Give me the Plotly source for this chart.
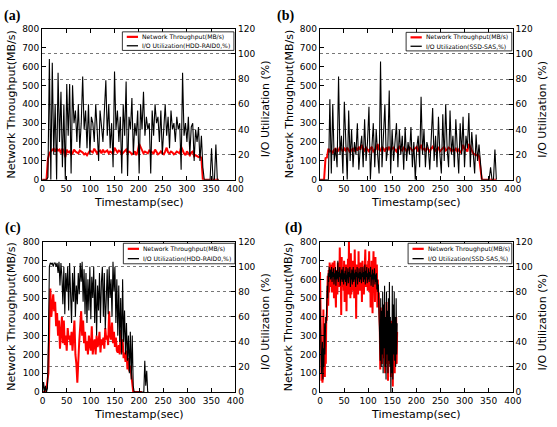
import plotly.graph_objects as go

# ---------------- data ----------------
# (a) HDD-RAID0, sampled every 3 s
a_step = 3
a_net = [0, 0, 0, 0, 110, 140, 150, 160, 165, 150, 165, 155, 160, 140, 165, 150, 120, 160, 145, 150,
         135, 140, 160, 150, 145, 140, 155, 150, 145, 135, 140, 130, 145, 155, 150, 145, 165, 150, 140, 150,
         155, 140, 160, 145, 150, 155, 140, 150, 145, 135, 170, 160, 145, 155, 150, 135, 145, 150, 160, 140,
         150, 145, 135, 140, 150, 130, 150, 190, 175, 160, 140, 150, 145, 140, 155, 150, 145, 140, 160, 145,
         135, 140, 150, 140, 135, 150, 170, 145, 140, 150, 145, 135, 140, 150, 145, 140, 175, 155, 140, 130,
         150, 140, 130, 145, 150, 125, 130, 125, 120, 125, 115, 0, 0, 0, 0, 0, 0, 0, 0, 0,
         0, 0, 0]
a_io = [0, 0, 0, 0, 2, 96, 0, 93, 20, 60, 0, 85, 30, 70, 10, 60, 0, 76, 35, 76,
        5, 75, 45, 55, 30, 60, 25, 45, 82, 40, 55, 25, 60, 20, 50, 45, 30, 60, 40, 15,
        55, 40, 30, 55, 79, 35, 60, 25, 45, 10, 86, 40, 55, 30, 50, 5, 60, 35, 78, 3,
        50, 40, 65, 20, 45, 35, 55, 5, 60, 40, 70, 35, 50, 40, 45, 5, 55, 35, 60, 45,
        50, 30, 55, 20, 45, 60, 35, 50, 25, 55, 40, 45, 30, 50, 40, 45, 8, 85, 35, 45,
        30, 50, 20, 42, 45, 15, 40, 30, 42, 15, 35, 10, 0, 0, 0, 0, 0, 25, 0, 0,
        28, 0, 0]

# (b) SSD-SAS, sampled every 3 s
b_step = 3
b_net = [0, 0, 0, 0, 115, 118, 165, 150, 155, 140, 160, 165, 150, 155, 175, 160, 150, 165, 155, 170,
         160, 145, 160, 165, 150, 170, 155, 175, 160, 185, 165, 155, 170, 160, 150, 165, 175, 150, 160, 165,
         190, 160, 155, 175, 165, 150, 170, 160, 175, 155, 165, 170, 160, 150, 165, 175, 160, 155, 170, 165,
         150, 160, 170, 165, 155, 160, 170, 175, 150, 165, 185, 160, 165, 155, 170, 160, 150, 165, 175, 160,
         155, 165, 170, 150, 160, 165, 175, 155, 160, 170, 165, 150, 160, 155, 165, 150, 160, 145, 155, 185,
         165, 160, 150, 190, 170, 150, 140, 135, 130, 135, 125, 60, 0, 0, 0, 0, 0, 0, 0, 0,
         0, 0, 0]
b_io = [0, 0, 0, 0, 0, 0, 0, 64, 5, 60, 15, 25, 10, 82, 20, 35, 5, 62, 25, 0,
        55, 15, 40, 10, 30, 20, 45, 8, 25, 35, 10, 48, 15, 30, 58, 0, 25, 45, 10, 40,
        20, 5, 94, 10, 35, 60, 15, 25, 71, 5, 40, 15, 30, 45, 10, 40, 20, 35, 8, 42,
        15, 30, 20, 42, 10, 30, 0, 25, 35, 10, 66, 20, 40, 10, 30, 25, 8, 40, 57, 15,
        35, 10, 50, 20, 5, 52, 15, 60, 25, 10, 55, 20, 35, 10, 48, 25, 5, 45, 20, 50,
        10, 35, 25, 53, 10, 38, 20, 5, 36, 15, 28, 10, 0, 0, 0, 0, 0, 0, 10, 0,
        0, 24, 0]

# (c) HDD-RAID0, sampled every 2 s
c_step = 2
c_net = [0, 0, 0, 0, 20, 50, 100, 380, 550, 400, 470, 520, 430, 480, 350, 420, 300, 380, 230, 300,
         400, 260, 380, 250, 300, 220, 340, 280, 300, 250, 320, 220, 280, 380, 200, 150, 50, 200, 270, 350,
         430, 300, 380, 260, 320, 220, 270, 200, 300, 250, 220, 350, 200, 260, 280, 200, 300, 240, 260, 320,
         210, 280, 250, 290, 230, 340, 280, 300, 250, 430, 300, 280, 370, 260, 320, 240, 290, 220, 210, 250,
         200, 330, 210, 280, 180, 210, 160, 220, 120, 180, 110, 140, 100, 50, 0, 0, 0, 0, 0, 0,
         0, 0, 0, 0]
c_io = [0, 8, 0, 5, 0, 3, 40, 100, 103, 102, 103, 100, 103, 103, 100, 103, 95, 104, 85, 103,
        92, 70, 100, 62, 95, 80, 100, 65, 103, 85, 55, 95, 72, 100, 60, 85, 70, 95, 78, 103,
        88, 104, 72, 98, 62, 95, 55, 90, 65, 100, 58, 92, 75, 100, 55, 90, 45, 85, 65, 95,
        55, 88, 100, 60, 95, 50, 85, 98, 62, 100, 75, 90, 60, 104, 80, 100, 55, 90, 45, 85,
        40, 75, 30, 90, 40, 65, 30, 55, 25, 45, 15, 48, 10, 45, 5, 0, 0, 0, 0, 0,
        0, 0, 0, 0, 0, 0, 25, 5, 17, 0, 0]

# (d) SSD-SAS, sampled every 1 s
d_step = 1
d_net = [640, 250, 100, 60, 150, 50, 80, 440, 100, 200, 80, 300, 150, 400, 380, 500, 620, 460, 650, 530,
         690, 560, 640, 600, 680, 530, 690, 600, 640, 500, 700, 560, 620, 450, 650, 580, 520, 690, 600, 650,
         560, 770, 600, 640, 410, 720, 560, 600, 650, 540, 700, 480, 620, 590, 680, 430, 640, 580, 710, 520,
         800, 560, 650, 500, 740, 520, 640, 600, 700, 540, 650, 500, 760, 600, 640, 390, 680, 560, 620, 520,
         750, 580, 650, 540, 690, 600, 640, 480, 700, 560, 660, 520, 620, 590, 760, 560, 680, 600, 640, 540,
         700, 600, 750, 530, 660, 450, 600, 700, 560, 420, 640, 750, 560, 650, 480, 720, 600, 540, 680, 450,
         600, 500, 530, 420, 350, 120, 450, 200, 380, 150, 420, 250, 460, 180, 350, 100, 400, 220, 480, 150,
         380, 60, 420, 200, 340, 150, 380, 80, 300, 100, 380, 30, 400, 200, 330, 100, 350, 180, 400, 150,
         320]
d_io = [75, 60, 30, 15, 25, 40, 10, 35, 20, 55, 30, 50, 60, 55, 70, 85, 75, 95, 88, 100,
        92, 98, 90, 95, 100, 88, 96, 92, 99, 86, 95, 90, 100, 85, 97, 90, 93, 105, 88, 96,
        92, 100, 85, 95, 90, 98, 88, 94, 100, 86, 95, 90, 97, 88, 100, 85, 94, 90, 99, 87,
        96, 92, 100, 84, 95, 90, 98, 86, 94, 100, 88, 95, 90, 98, 84, 96, 92, 100, 86, 95,
        91, 99, 88, 96, 90, 100, 87, 95, 92, 100, 88, 96, 90, 102, 86, 97, 92, 100, 87, 95,
        90, 99, 88, 96, 92, 100, 85, 94, 90, 98, 84, 95, 90, 99, 86, 94, 88, 95, 82, 90,
        80, 86, 70, 78, 60, 25, 75, 20, 65, 30, 80, 15, 70, 35, 85, 20, 60, 10, 80, 30,
        65, 15, 75, 25, 88, 20, 60, 0, 55, 15, 85, 10, 70, 30, 80, 25, 60, 20, 75, 30,
        55]

panel_labels = ["(a)", "(b)", "(c)", "(d)"]
devices = ["HDD-RAID0", "SSD-SAS", "HDD-RAID0", "SSD-SAS"]
x_ticks = [0, 50, 100, 150, 200, 250, 300, 350, 400]
left_ticks = [0, 100, 200, 300, 400, 500, 600, 700, 800]
right_ticks = [0, 20, 40, 60, 80, 100, 120]

# ---------------- layout helpers ----------------
W, H = 557, 427
FONT = "DejaVu Sans"


def fx(p):
    return p / W


def fy(p):
    return 1 - p / H


# pixel boxes of each plotting area: (left, right, top, bottom)
boxes = [(40, 237.3, 24.3, 179), (323.7, 521, 24.3, 179),
         (40.5, 237.5, 242.3, 396.3), (324, 521, 242.6, 396.3)]
# legend boxes: (left, right, top, bottom)
leg_boxes = [(122, 236, 27.5, 46.5), (412, 520, 28, 47), (123, 237, 244, 265), (414, 520, 244, 265)]
# panel label centres (pixels)
label_pos = [(10, 11), (289, 11), (10, 228), (297, 228)]

series = [(a_step, a_net, a_io), (b_step, b_net, b_io), (c_step, c_net, c_io), (d_step, d_net, d_io)]

fig = go.Figure()
layout = dict(width=W, height=H, margin=dict(l=0, r=0, t=0, b=0),
              paper_bgcolor="white", plot_bgcolor="white", showlegend=False,
              font=dict(family=FONT, color="black", size=9))
annotations = []
shapes = []

for i in range(4):
    step, net, io = series[i]
    xid = "x" if i == 0 else f"x{i + 1}"
    yl = f"y{2 * i + 1}" if i > 0 else "y"
    yr = f"y{2 * i + 2}"
    t_net = [k * step for k in range(len(net))]
    t_io = [k * step for k in range(len(io))]
    fig.add_trace(go.Scatter(x=t_net, y=net, mode="lines", name="Network Throughput(MB/s)",
                             line=dict(color="#ff0000", width=2), xaxis=xid, yaxis=yl))
    fig.add_trace(go.Scatter(x=t_io, y=io, mode="lines", name=f"I/O Utilization({devices[i]},%)",
                             line=dict(color="black", width=1.1), xaxis=xid, yaxis=yr))
    L, R, T, B = boxes[i]
    xkey = "xaxis" if i == 0 else f"xaxis{i + 1}"
    ylkey = "yaxis" if i == 0 else f"yaxis{2 * i + 1}"
    yrkey = f"yaxis{2 * i + 2}"
    common = dict(showline=True, linecolor="black", linewidth=1, ticks="inside", ticklen=4,
                  tickcolor="black", zeroline=False, tickfont=dict(size=9, family=FONT))
    layout[xkey] = dict(domain=[fx(L), fx(R)], anchor=yl, range=[0, 400], tickvals=x_ticks,
                        mirror="ticks", showgrid=False, **common)
    layout[ylkey] = dict(domain=[fy(B), fy(T)], anchor=xid, range=[0, 800], tickvals=left_ticks,
                         showgrid=False, **common)
    layout[yrkey] = dict(domain=[fy(B), fy(T)], anchor=xid, overlaying=yl, side="right",
                         range=[0, 120], tickvals=right_ticks, showgrid=True, gridcolor="#777777",
                         griddash="dot", gridwidth=1, **common)
    cx = (L + R) / 2
    cy = (T + B) / 2
    annotations.append(dict(text="Timestamp(sec)", x=fx(cx), y=fy(B + 23), xref="paper", yref="paper",
                            showarrow=False, font=dict(size=11), xanchor="center", yanchor="middle"))
    annotations.append(dict(text="Network Throughput(MB/s)", x=fx(L - 31.5), y=fy(cy), xref="paper",
                            yref="paper", showarrow=False, font=dict(size=11), textangle=-90,
                            xanchor="center", yanchor="middle"))
    annotations.append(dict(text="I/O Utilization (%)", x=fx(R + 30.5), y=fy(cy + 5), xref="paper",
                            yref="paper", showarrow=False, font=dict(size=11), textangle=-90,
                            xanchor="center", yanchor="middle"))
    lx, ly = label_pos[i]
    annotations.append(dict(text=f"<b>{panel_labels[i]}</b>", x=fx(lx), y=fy(ly), xref="paper",
                            yref="paper", showarrow=False, font=dict(size=14, family="Liberation Serif"),
                            xanchor="center", yanchor="middle"))
    # legend box drawn inside the axes
    lL, lR, lT, lB = leg_boxes[i]
    shapes.append(dict(type="rect", xref="paper", yref="paper", x0=fx(lL), x1=fx(lR), y0=fy(lB), y1=fy(lT),
                       line=dict(color="black", width=0.8), fillcolor="white", layer="above"))
    row1 = lT + (lB - lT) * 0.27
    row2 = lT + (lB - lT) * 0.75
    shapes.append(dict(type="line", xref="paper", yref="paper", x0=fx(lL + 4.5), x1=fx(lL + 16),
                       y0=fy(row1), y1=fy(row1), line=dict(color="#ff0000", width=2.2), layer="above"))
    shapes.append(dict(type="line", xref="paper", yref="paper", x0=fx(lL + 4.5), x1=fx(lL + 16),
                       y0=fy(row2), y1=fy(row2), line=dict(color="black", width=1.3), layer="above"))
    annotations.append(dict(text="Network Throughput(MB/s)", x=fx(lL + 19), y=fy(row1), xref="paper",
                            yref="paper", showarrow=False, font=dict(size=6.1), xanchor="left",
                            yanchor="middle", borderpad=0))
    annotations.append(dict(text=f"I/O Utilization({devices[i]},%)", x=fx(lL + 19), y=fy(row2),
                            xref="paper", yref="paper", showarrow=False, font=dict(size=6.1),
                            xanchor="left", yanchor="middle", borderpad=0))

layout["annotations"] = annotations
layout["shapes"] = shapes
fig.update_layout(**layout)
fig.write_html("out.html", config={"displayModeBar": False},
               post_script="document.body.style.margin='0px';")
